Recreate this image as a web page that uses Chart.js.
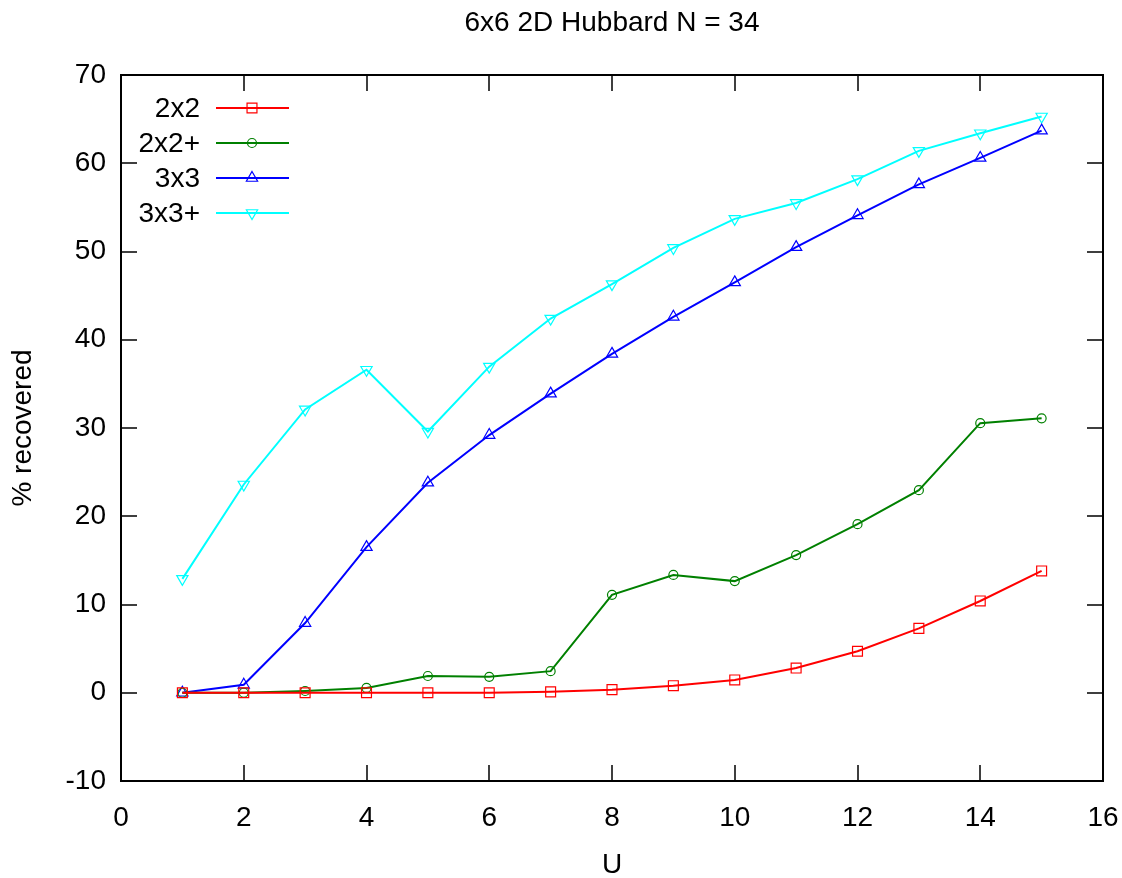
<!DOCTYPE html>
<html>
<head>
<meta charset="utf-8">
<title>6x6 2D Hubbard N = 34</title>
<script src="https://cdn.jsdelivr.net/npm/chart.js@4.4.1/dist/chart.umd.min.js"></script>
<style>
  html, body { margin: 0; padding: 0; background: #fff; }
  #wrap { width: 1122px; height: 878px; position: relative; }
</style>
</head>
<body>
<div id="wrap"><canvas id="chart"></canvas></div>
<script>
// U values on the x axis
const uValues = [1, 2, 3, 4, 5, 6, 7, 8, 9, 10, 11, 12, 13, 14, 15];

// % recovered for each method
const series2x2 = [0, 0, 0, 0, 0, 0, 0.1, 0.35, 0.8, 1.45, 2.8, 4.7, 7.3, 10.4, 13.8];
const series2x2p = [0, 0, 0.2, 0.55, 1.9, 1.8, 2.45, 11.1, 13.35, 12.65, 15.6, 19.1, 22.95, 30.55, 31.1];
const series3x3 = [0, 0.9, 7.9, 16.5, 23.8, 29.2, 33.9, 38.4, 42.6, 46.5, 50.5, 54.1, 57.6, 60.6, 63.7];
const series3x3p = [12.9, 23.6, 32.1, 36.6, 29.6, 36.95, 42.4, 46.3, 50.4, 53.7, 55.5, 58.2, 61.4, 63.4, 65.3];

const labels = ['2x2', '2x2+', '3x3', '3x3+'];
const colors = ['#ff0000', '#008000', '#0000ff', '#00ffff'];
const xTicks = [0, 2, 4, 6, 8, 10, 12, 14, 16];
const yTicks = [-10, 0, 10, 20, 30, 40, 50, 60, 70];
const titleText = '6x6 2D Hubbard N = 34';

const FONT = 'Liberation Sans, Arial, sans-serif';
const FSIZE = 28;

function toPoints(vals) {
    return uValues.map((u, i) => ({ x: u, y: vals[i] }));
}

function makeSet(label, vals, color, style, radius, rotation) {
    return {
        label: label,
        data: toPoints(vals),
        borderColor: color,
        backgroundColor: 'rgba(0,0,0,0)',
        borderWidth: 2,
        pointStyle: style,
        pointRadius: radius,
        pointRotation: rotation,
        pointBorderColor: color,
        pointBackgroundColor: 'rgba(0,0,0,0)',
        pointBorderWidth: 1.2,
        tension: 0
    };
}

// gnuplot style frame with inward ticks on all four sides, plus the title
const framePlugin = {
    id: 'frame',
    afterDatasetsDraw(chart) {
        const ctx = chart.ctx;
        const a = chart.chartArea;
        const xs = chart.scales.x;
        const ys = chart.scales.y;
        const len = 16;
        ctx.save();
        ctx.strokeStyle = '#000';
        ctx.lineWidth = 2;
        ctx.strokeRect(a.left, a.top, a.right - a.left, a.bottom - a.top);
        ctx.lineWidth = 1.5;
        ctx.beginPath();
        xTicks.forEach(v => {
            const px = Math.round(xs.getPixelForValue(v));
            ctx.moveTo(px, a.bottom); ctx.lineTo(px, a.bottom - len);
            ctx.moveTo(px, a.top); ctx.lineTo(px, a.top + len);
        });
        yTicks.forEach(v => {
            const py = Math.round(ys.getPixelForValue(v));
            ctx.moveTo(a.left, py); ctx.lineTo(a.left + len, py);
            ctx.moveTo(a.right, py); ctx.lineTo(a.right - len, py);
        });
        ctx.stroke();

        // title centred over the plot area, like gnuplot
        ctx.fillStyle = '#000';
        ctx.font = FSIZE + 'px ' + FONT;
        ctx.textAlign = 'center';
        ctx.textBaseline = 'middle';
        ctx.fillText(titleText, (a.left + a.right) / 2, 23);
        ctx.restore();
    }
};

// legend in the top-left corner: label, then line sample with marker
const keyPlugin = {
    id: 'key',
    afterDraw(chart) {
        const ctx = chart.ctx;
        const rows = [108, 143, 178, 213];
        ctx.save();
        ctx.font = FSIZE + 'px ' + FONT;
        ctx.textAlign = 'right';
        ctx.textBaseline = 'middle';
        chart.data.datasets.forEach((ds, i) => {
            const y = rows[i];
            ctx.fillStyle = '#000';
            ctx.fillText(ds.label, 200, y + 1);
            ctx.strokeStyle = ds.borderColor;
            ctx.lineWidth = 2;
            ctx.beginPath();
            ctx.moveTo(216, y);
            ctx.lineTo(289, y);
            ctx.stroke();
            ctx.lineWidth = 1.2;
            ctx.fillStyle = 'rgba(0,0,0,0)';
            ctx.strokeStyle = ds.borderColor;
            Chart.helpers.drawPoint(ctx, {
                pointStyle: ds.pointStyle,
                rotation: ds.pointRotation,
                radius: ds.pointRadius,
                borderWidth: 1.2
            }, 252, y);
        });
        ctx.restore();
    }
};

const chart = new Chart(document.getElementById('chart'), {
    type: 'line',
    data: {
        datasets: [
            makeSet(labels[0], series2x2, colors[0], 'rect', 7, 0),
            makeSet(labels[1], series2x2p, colors[1], 'circle', 4.5, 0),
            makeSet(labels[2], series3x3, colors[2], 'triangle', 6.5, 0),
            makeSet(labels[3], series3x3p, colors[3], 'triangle', 6.5, 180)
        ]
    },
    options: {
        responsive: true,
        maintainAspectRatio: false,
        animation: false,
        layout: { padding: { top: 75, right: 19, bottom: 0, left: 0 } },
        plugins: {
            legend: { display: false },
            tooltip: { enabled: false },
            title: { display: false }
        },
        scales: {
            x: {
                type: 'linear',
                min: 0,
                max: 16,
                afterBuildTicks(scale) {
                    scale.ticks = xTicks.map(v => ({ value: v }));
                },
                afterFit(scale) {
                    scale.height = 97;
                    scale.paddingRight = 0;
                    scale.paddingLeft = 0;
                },
                grid: { display: false, drawTicks: false },
                border: { display: false },
                ticks: {
                    color: '#000',
                    font: { family: FONT, size: FSIZE },
                    padding: 20,
                    maxRotation: 0
                },
                title: {
                    display: true,
                    text: 'U',
                    color: '#000',
                    font: { family: FONT, size: FSIZE },
                    padding: { top: 27, bottom: -4 }
                }
            },
            y: {
                type: 'linear',
                min: -10,
                max: 70,
                afterBuildTicks(scale) {
                    scale.ticks = yTicks.map(v => ({ value: v }));
                },
                afterFit(scale) {
                    scale.width = 121;
                    scale.paddingTop = 0;
                    scale.paddingBottom = 0;
                },
                grid: { display: false, drawTicks: false },
                border: { display: false },
                ticks: {
                    color: '#000',
                    font: { family: FONT, size: FSIZE },
                    padding: 15
                },
                title: {
                    display: true,
                    text: '% recovered',
                    color: '#000',
                    font: { family: FONT, size: FSIZE },
                    padding: { top: 6, bottom: 0 }
                }
            }
        }
    },
    plugins: [framePlugin, keyPlugin]
});
</script>
</body>
</html>
